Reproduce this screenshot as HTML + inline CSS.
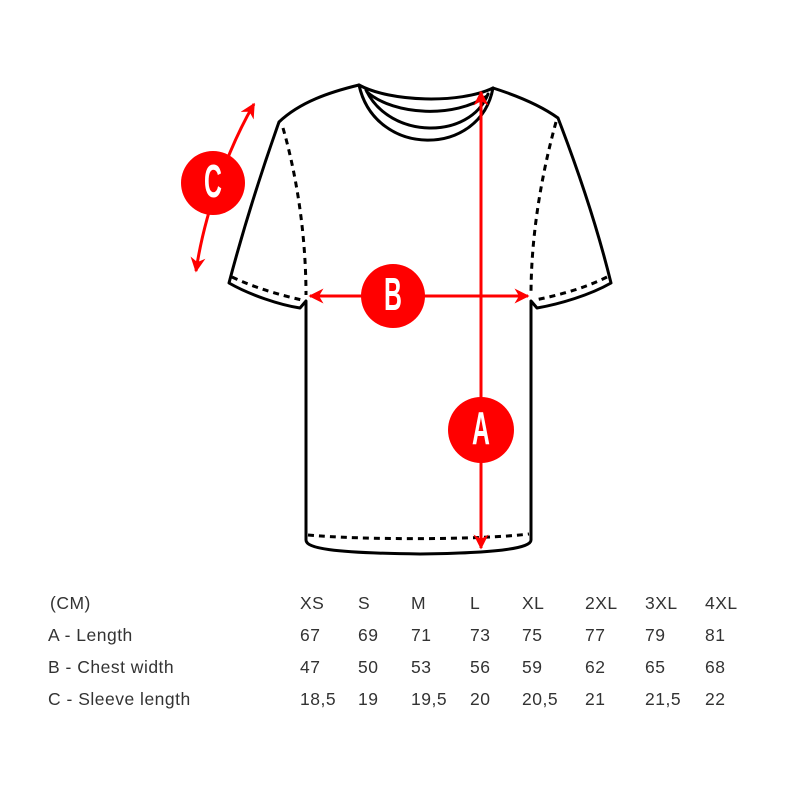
<!DOCTYPE html>
<html><head><meta charset="utf-8"><style>
body{margin:0;background:#fff;width:800px;height:800px;overflow:hidden}
svg{display:block}
</style></head><body>
<svg width="800" height="800" viewBox="0 0 800 800">
<defs>
<marker id="ah" viewBox="0 0 10 10" refX="9" refY="5" markerWidth="5" markerHeight="5" orient="auto-start-reverse">
<path d="M0,0 L10,5 L0,10 L3,5 z" fill="#f00"/></marker>
</defs>
<g fill="none" stroke="#000" stroke-width="3" stroke-linejoin="round" stroke-linecap="round">
<path d="M359,85 C330,92 300,102 279,122 C262,170 243,230 229,283 C250,295 280,305 300,308 L306,301 L306,540 C306,548 330,553 420,554 C500,553 531,548 531,540 L531,301 L537,308 C560,304 590,295 611,283 C598,230 578,170 558,118 C540,105 515,95 493,88"/>
<path d="M359,85 C390,102 460,104 493,88"/>
<path d="M367,92 C395,116 455,118 487,96"/>
<path d="M366,90 C390,140 470,140 488,94"/>
<path d="M359,85 C375,158 480,158 493,88"/>
</g>
<g fill="none" stroke="#000" stroke-width="3" stroke-dasharray="6,5">
<path d="M283,128 C298,180 306,240 306,295"/>
<path d="M556,122 C540,180 531,240 531,295"/>
<path d="M232,277 C255,288 280,295 302,300"/>
<path d="M607,277 C585,288 560,295 535,300"/>
<path d="M308,535 C360,540 480,540 529,534"/>
</g>
<g stroke="#f00" stroke-width="3" fill="none">
<line x1="481" y1="92" x2="481" y2="548" marker-start="url(#ah)" marker-end="url(#ah)"/>
<line x1="310" y1="296" x2="528" y2="296" marker-start="url(#ah)" marker-end="url(#ah)"/>
<path d="M254,104 C230,145 205,210 196,271" marker-start="url(#ah)" marker-end="url(#ah)"/>
</g>
<g fill="#f00">
<circle cx="481" cy="430" r="33"/>
<circle cx="393" cy="296" r="32"/>
<circle cx="213" cy="183" r="32"/>
</g>
<g fill="#fff" font-family="Liberation Sans, sans-serif" font-weight="bold" font-size="40" text-anchor="middle">
<text x="481" y="444" transform="translate(481 444) scale(0.62 1.15) translate(-481 -444)">A</text>
<text x="393" y="310" transform="translate(393 310) scale(0.62 1.15) translate(-393 -310)">B</text>
<text x="213" y="197" transform="translate(213 197) scale(0.62 1.15) translate(-213 -197)">C</text>
</g>
<g font-family="Liberation Sans, sans-serif" font-size="17.5" fill="#333" letter-spacing="0.5">
<text x="50" y="609">(CM)</text>
<text x="48" y="641">A - Length</text>
<text x="48" y="673">B - Chest width</text>
<text x="48" y="705">C - Sleeve length</text>
<text x="300" y="609">XS</text><text x="358" y="609">S</text><text x="411" y="609">M</text><text x="470" y="609">L</text><text x="522" y="609">XL</text><text x="585" y="609">2XL</text><text x="645" y="609">3XL</text><text x="705" y="609">4XL</text>
<text x="300" y="641">67</text><text x="358" y="641">69</text><text x="411" y="641">71</text><text x="470" y="641">73</text><text x="522" y="641">75</text><text x="585" y="641">77</text><text x="645" y="641">79</text><text x="705" y="641">81</text>
<text x="300" y="673">47</text><text x="358" y="673">50</text><text x="411" y="673">53</text><text x="470" y="673">56</text><text x="522" y="673">59</text><text x="585" y="673">62</text><text x="645" y="673">65</text><text x="705" y="673">68</text>
<text x="300" y="705">18,5</text><text x="358" y="705">19</text><text x="411" y="705">19,5</text><text x="470" y="705">20</text><text x="522" y="705">20,5</text><text x="585" y="705">21</text><text x="645" y="705">21,5</text><text x="705" y="705">22</text>
</g>
</svg>
</body></html>
